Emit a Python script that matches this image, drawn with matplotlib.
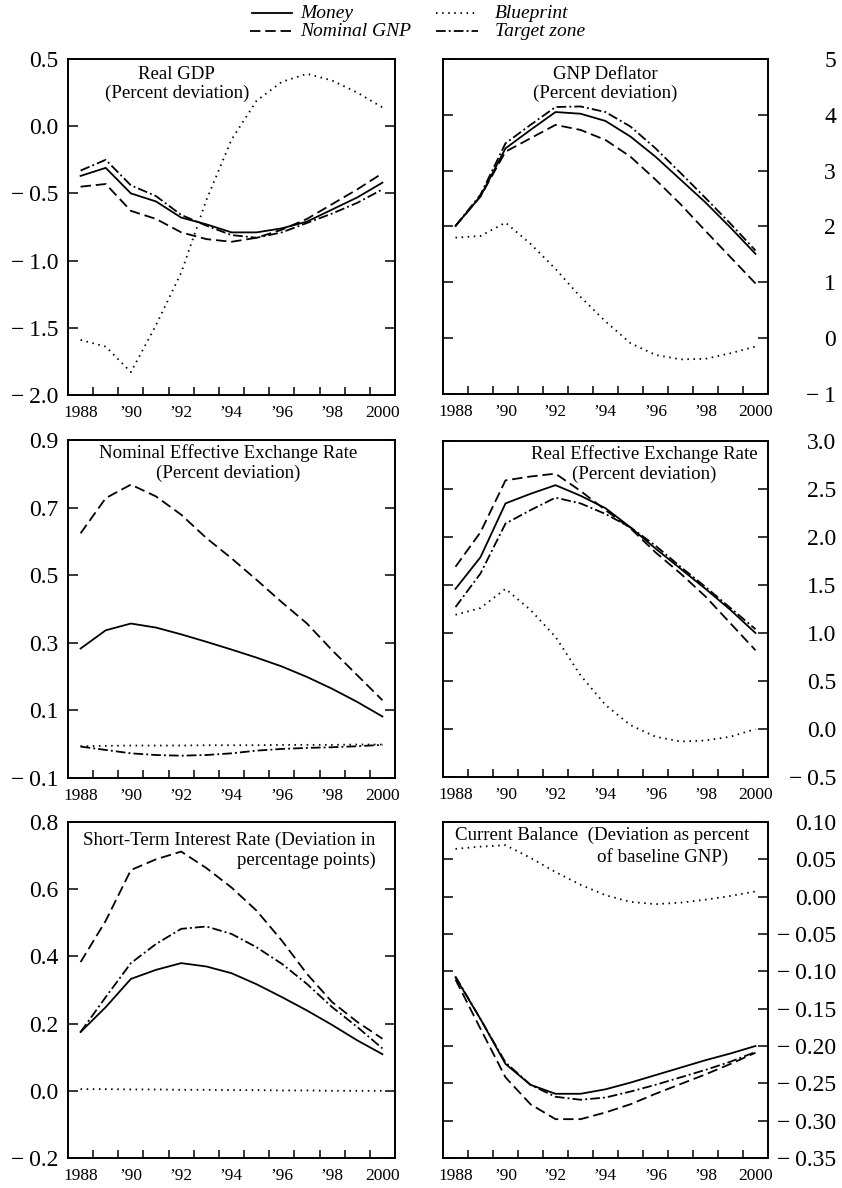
import matplotlib
matplotlib.use("Agg")
import matplotlib.pyplot as plt
from matplotlib.lines import Line2D
from matplotlib.ticker import FixedLocator, FuncFormatter

plt.rcParams['font.family'] = ['Liberation Serif', 'DejaVu Serif']
plt.rcParams['lines.scale_dashes'] = False

years = list(range(1988, 2001))
xtick_years = [1988, 1990, 1992, 1994, 1996, 1998, 2000]
xtick_labels = ['1988', '\u201990', '\u201992', '\u201994', '\u201996', '\u201998', '2000']
series_names = ['Money', 'Nominal GNP', 'Blueprint', 'Target zone']

# Real GDP (percent deviation)
gdp_money = [-0.37, -0.31, -0.50, -0.56, -0.68, -0.73, -0.79, -0.79, -0.76, -0.71, -0.62, -0.53, -0.42]
gdp_nominal = [-0.45, -0.43, -0.63, -0.69, -0.79, -0.84, -0.86, -0.83, -0.77, -0.69, -0.58, -0.47, -0.35]
gdp_blueprint = [-1.59, -1.64, -1.83, -1.48, -1.09, -0.55, -0.10, 0.19, 0.33, 0.39, 0.34, 0.25, 0.14]
gdp_target = [-0.33, -0.25, -0.44, -0.52, -0.66, -0.74, -0.81, -0.83, -0.79, -0.72, -0.65, -0.57, -0.47]

# GNP deflator (percent deviation)
defl_money = [2.01, 2.54, 3.40, 3.73, 4.05, 4.02, 3.89, 3.61, 3.25, 2.84, 2.43, 1.98, 1.51]
defl_nominal = [2.01, 2.54, 3.34, 3.58, 3.82, 3.73, 3.55, 3.25, 2.84, 2.40, 1.92, 1.45, 0.98]
defl_blueprint = [1.80, 1.83, 2.07, 1.69, 1.24, 0.74, 0.30, -0.09, -0.30, -0.38, -0.37, -0.27, -0.15]
defl_target = [2.01, 2.57, 3.49, 3.82, 4.14, 4.15, 4.05, 3.79, 3.40, 2.96, 2.51, 2.05, 1.57]

# Nominal effective exchange rate (percent deviation)
neer_money = [0.283, 0.337, 0.357, 0.345, 0.325, 0.303, 0.280, 0.256, 0.230, 0.199, 0.164, 0.125, 0.082]
neer_nominal = [0.624, 0.728, 0.768, 0.733, 0.679, 0.610, 0.550, 0.486, 0.420, 0.357, 0.278, 0.204, 0.130]
neer_blueprint = [-0.006, -0.005, -0.004, -0.004, -0.004, -0.003, -0.003, -0.003, -0.002, -0.002, -0.002, -0.001, -0.001]
neer_target = [-0.007, -0.017, -0.027, -0.032, -0.034, -0.032, -0.027, -0.019, -0.014, -0.011, -0.009, -0.006, -0.002]

# Real effective exchange rate (percent deviation)
reer_money = [1.46, 1.79, 2.35, 2.45, 2.54, 2.43, 2.30, 2.10, 1.88, 1.67, 1.46, 1.24, 1.00]
reer_nominal = [1.69, 2.05, 2.59, 2.63, 2.66, 2.48, 2.28, 2.09, 1.84, 1.62, 1.38, 1.10, 0.82]
reer_blueprint = [1.19, 1.26, 1.46, 1.24, 0.96, 0.56, 0.25, 0.04, -0.08, -0.13, -0.12, -0.08, 0.00]
reer_target = [1.27, 1.62, 2.14, 2.28, 2.41, 2.35, 2.24, 2.10, 1.91, 1.69, 1.48, 1.26, 1.04]

# Short-term interest rate (deviation in percentage points)
rate_money = [0.175, 0.249, 0.333, 0.360, 0.380, 0.370, 0.350, 0.317, 0.279, 0.239, 0.196, 0.150, 0.109]
rate_nominal = [0.383, 0.506, 0.657, 0.689, 0.712, 0.663, 0.605, 0.536, 0.447, 0.348, 0.264, 0.205, 0.155]
rate_blueprint = [0.005, 0.005, 0.004, 0.004, 0.003, 0.003, 0.002, 0.002, 0.001, 0.001, 0.000, 0.000, 0.000]
rate_target = [0.175, 0.279, 0.380, 0.437, 0.482, 0.489, 0.467, 0.427, 0.378, 0.318, 0.249, 0.190, 0.126]

# Current balance (deviation as percent of baseline GNP)
cb_money = [-0.108, -0.164, -0.224, -0.252, -0.264, -0.264, -0.258, -0.249, -0.239, -0.229, -0.219, -0.210, -0.200]
cb_nominal = [-0.111, -0.177, -0.242, -0.278, -0.298, -0.298, -0.289, -0.278, -0.264, -0.251, -0.238, -0.224, -0.209]
cb_blueprint = [0.064, 0.067, 0.069, 0.052, 0.033, 0.016, 0.002, -0.007, -0.010, -0.008, -0.004, 0.001, 0.007]
cb_target = [-0.107, -0.164, -0.222, -0.252, -0.268, -0.272, -0.269, -0.261, -0.252, -0.242, -0.232, -0.221, -0.208]

W, H = 842, 1188
fig = plt.figure(figsize=(W / 100, H / 100), dpi=100)

styles = {
    'Money': dict(linestyle='-'),
    'Nominal GNP': dict(linestyle=(0, (7.5, 3.5))),
    'Blueprint': dict(linestyle=(0, (1.1, 3.3))),
    'Target zone': dict(linestyle=(0, (7.0, 2.2, 1.4, 2.2))),
}
LW = 1.3


def fmt_num(v, nd):
    s = f"{abs(v):.{nd}f}"
    if round(v, nd) < 0:
        return "\u2212\u2009" + s
    return s


def make_axes(left_px, top_px, right_px, bottom_px):
    return fig.add_axes([left_px / W, 1 - bottom_px / H,
                         (right_px - left_px) / W, (bottom_px - top_px) / H])


panels = [
    dict(box=(68, 59, 395, 395), side='left', ylim=(-2.0, 0.5), yt=[0.5, 0.0, -0.5, -1.0, -1.5, -2.0], nd=1,
         data=[gdp_money, gdp_nominal, gdp_blueprint, gdp_target]),
    dict(box=(443, 59, 768, 394), side='right', ylim=(-1, 5), yt=[5, 4, 3, 2, 1, 0, -1], nd=0,
         data=[defl_money, defl_nominal, defl_blueprint, defl_target]),
    dict(box=(68, 440, 395, 778), side='left', ylim=(-0.1, 0.9), yt=[0.9, 0.7, 0.5, 0.3, 0.1, -0.1], nd=1,
         data=[neer_money, neer_nominal, neer_blueprint, neer_target]),
    dict(box=(443, 441, 768, 777), side='right', ylim=(-0.5, 3.0), yt=[3.0, 2.5, 2.0, 1.5, 1.0, 0.5, 0.0, -0.5], nd=1,
         data=[reer_money, reer_nominal, reer_blueprint, reer_target]),
    dict(box=(68, 822, 395, 1158), side='left', ylim=(-0.2, 0.8), yt=[0.8, 0.6, 0.4, 0.2, 0.0, -0.2], nd=1,
         data=[rate_money, rate_nominal, rate_blueprint, rate_target]),
    dict(box=(443, 822, 768, 1158), side='right', ylim=(-0.35, 0.10),
         yt=[0.10, 0.05, 0.00, -0.05, -0.10, -0.15, -0.20, -0.25, -0.30, -0.35], nd=2,
         data=[cb_money, cb_nominal, cb_blueprint, cb_target]),
]

axes = []
for p in panels:
    ax = make_axes(*p['box'])
    axes.append(ax)
    for name, vals in zip(series_names, p['data']):
        ax.plot(years, vals, color='black', lw=LW, label=name, **styles[name])
    ax.set_xlim(1987.5, 2000.5)
    ax.set_ylim(*p['ylim'])
    for s in ax.spines.values():
        s.set_linewidth(1.4)
    # x axis
    ax.xaxis.set_major_locator(FixedLocator(xtick_years))
    ax.set_xticklabels(xtick_labels, fontsize=12.5)
    ax.xaxis.set_minor_locator(FixedLocator([y + 0.5 for y in range(1988, 2000)]))
    ax.tick_params(axis='x', which='major', length=0, pad=7)
    ax.tick_params(axis='x', which='minor', direction='in', length=6, width=1.1, top=False)
    # y axis
    ax.yaxis.set_major_locator(FixedLocator(p['yt']))
    nd = p['nd']
    ax.yaxis.set_major_formatter(FuncFormatter(lambda v, pos, nd=nd: fmt_num(v, nd)))
    ax.tick_params(axis='y', which='major', direction='in', length=7, width=1.1,
                   left=True, right=True, labelsize=17)
    if p['side'] == 'left':
        ax.tick_params(axis='y', labelleft=True, labelright=False, pad=7)
    else:
        ax.tick_params(axis='y', labelleft=False, labelright=True, pad=49)
        for lab in ax.get_yticklabels():
            lab.set_horizontalalignment('right')

TFS = 13.6
a = axes[0]
a.text(0.333, 0.955, 'Real GDP', transform=a.transAxes, ha='center', va='center', fontsize=TFS)
a.text(0.333, 0.897, '(Percent deviation)', transform=a.transAxes, ha='center', va='center', fontsize=TFS)
a = axes[1]
a.text(0.50, 0.955, 'GNP Deflator', transform=a.transAxes, ha='center', va='center', fontsize=TFS)
a.text(0.50, 0.897, '(Percent deviation)', transform=a.transAxes, ha='center', va='center', fontsize=TFS)
a = axes[2]
a.text(0.49, 0.96, 'Nominal Effective Exchange Rate', transform=a.transAxes, ha='center', va='center', fontsize=TFS)
a.text(0.49, 0.902, '(Percent deviation)', transform=a.transAxes, ha='center', va='center', fontsize=TFS)
a = axes[3]
a.text(0.62, 0.96, 'Real Effective Exchange Rate', transform=a.transAxes, ha='center', va='center', fontsize=TFS)
a.text(0.62, 0.902, '(Percent deviation)', transform=a.transAxes, ha='center', va='center', fontsize=TFS)
a = axes[4]
a.text(0.94, 0.946, 'Short-Term Interest Rate (Deviation in', transform=a.transAxes, ha='right', va='center', fontsize=TFS)
a.text(0.94, 0.887, 'percentage points)', transform=a.transAxes, ha='right', va='center', fontsize=TFS)
a = axes[5]
a.text(0.037, 0.961, 'Current Balance  (Deviation as percent', transform=a.transAxes, ha='left', va='center', fontsize=TFS)
a.text(0.677, 0.896, 'of baseline GNP)', transform=a.transAxes, ha='center', va='center', fontsize=TFS)

# legend (drawn manually for exact placement)
legend_layout = {
    'Money': (252, 292, 300, 13),
    'Nominal GNP': (250, 292, 300, 31),
    'Blueprint': (436, 478, 495, 13),
    'Target zone': (436, 478, 495, 31),
}
for name in series_names:
    x0, x1, xt, yc = legend_layout[name]
    fig.add_artist(Line2D([x0 / W, x1 / W], [1 - yc / H, 1 - yc / H], transform=fig.transFigure,
                          color='black', lw=LW, **styles[name]))
    fig.text(xt / W, 1 - yc / H, name, ha='left', va='center', fontsize=14, style='italic')

fig.savefig('out.png', dpi=100)
